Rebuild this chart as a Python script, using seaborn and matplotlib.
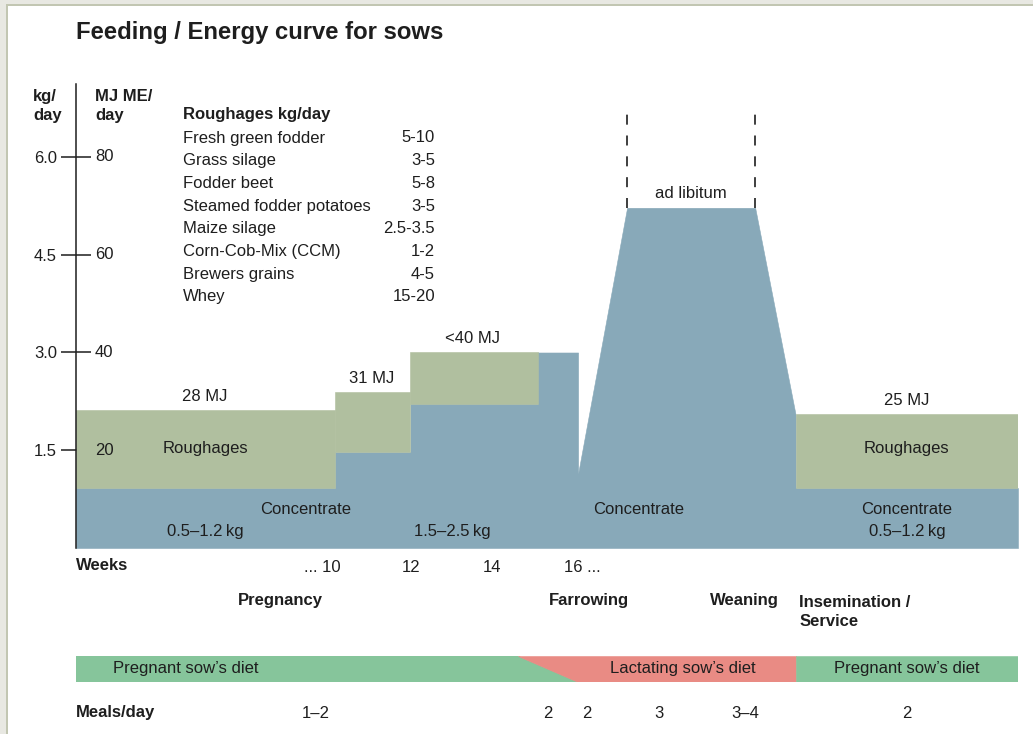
import matplotlib
matplotlib.use("Agg")
import matplotlib.pyplot as plt
import seaborn as sns
from matplotlib.patches import Rectangle

# --- data -------------------------------------------------------------
# timeline runs 0..100 across the chart (not linear in weeks)
conc_x = [0, 27.5, 27.5, 35.5, 35.5, 49.0, 49.0, 53.3, 53.3, 58.5, 72.1, 76.4, 76.4, 100]
conc_y = [0.92, 0.92, 1.47, 1.47, 2.21, 2.21, 3.0, 3.0, 1.14, 5.22, 5.22, 2.04, 0.92, 0.92]

rough_start = [0, 27.5, 35.5, 76.4]
rough_end = [27.5, 35.5, 49.0, 100]
rough_base = [0.92, 1.47, 2.21, 0.92]
rough_top = [2.12, 2.40, 3.01, 2.06]
energy_labels = ["28 MJ", "31 MJ", "<40 MJ", "25 MJ"]
energy_label_x = [13.7, 31.4, 42.1, 88.2]

kg_ticks = [1.5, 3.0, 4.5, 6.0]
mj_ticks = [20, 40, 60, 80]

week_pos = [26.1, 35.6, 44.2, 53.8]
week_labels = ["... 10", "12", "14", "16 ..."]

adlib_x = [58.5, 72.1]
adlib_level = 5.22

roughage_feeds = ["Fresh green fodder", "Grass silage", "Fodder beet",
                  "Steamed fodder potatoes", "Maize silage", "Corn-Cob-Mix (CCM)",
                  "Brewers grains", "Whey"]
roughage_amounts = ["5-10", "3-5", "5-8", "3-5", "2.5-3.5", "1-2", "4-5", "15-20"]

diet_names = ["Pregnant sow\u2019s diet", "Lactating sow\u2019s diet", "Pregnant sow\u2019s diet"]
diet_split_top = [46.9, 76.4]
diet_split_bottom = [53.3, 76.4]
diet_label_x = [11.6, 64.4, 88.2]

meal_pos = [25.5, 50.1, 54.2, 61.9, 71.0, 88.2]
meal_labels = ["1\u20132", "2", "2", "3", "3\u20134", "2"]

stage_names = ["Pregnancy", "Farrowing", "Weaning"]
stage_x = [21.7, 54.5, 71.0]

# --- style --------------------------------------------------------------
sns.set_theme(style="white")
plt.rcParams["font.family"] = ["Liberation Sans", "DejaVu Sans"]
TXT = "#1e1e1e"
BLUE = "#88a9b9"
GREEN = "#b0bf9f"
DIET_GREEN = "#86c59b"
DIET_RED = "#e98b84"
FS = 12

W, H = 1033, 734
fig = plt.figure(figsize=(W / 100, H / 100), dpi=100)
fig.patch.set_facecolor("white")


def px(x, y):
    return x / W, 1 - y / H


# frame strips (left / top)
fig.patches.append(Rectangle((0, 0), 6 / W, 1, transform=fig.transFigure,
                             facecolor="#e8e8e2", edgecolor="none"))
fig.patches.append(Rectangle((6 / W, 0), 1.5 / W, 1, transform=fig.transFigure,
                             facecolor="#c2c6b2", edgecolor="none"))
fig.patches.append(Rectangle((0, 1 - 4 / H), 1, 4 / H, transform=fig.transFigure,
                             facecolor="#e8e8e2", edgecolor="none"))
fig.patches.append(Rectangle((6 / W, 1 - 5.5 / H), 1, 1.5 / H, transform=fig.transFigure,
                             facecolor="#c2c6b2", edgecolor="none"))

# --- main chart ---------------------------------------------------------
ax = fig.add_axes([76 / W, 1 - 548 / H, 942 / W, 464 / H])
ax.set_xlim(0, 100)
ax.set_ylim(0, 7.12)
ax.fill_between(conc_x, 0, conc_y, facecolor=BLUE, edgecolor=BLUE, linewidth=0.4)
ax.bar(rough_start, [t - b for t, b in zip(rough_top, rough_base)],
       width=[e - s for s, e in zip(rough_start, rough_end)], bottom=rough_base,
       align="edge", facecolor=GREEN, edgecolor=GREEN, linewidth=0.4)

for xv, t, lab in zip(energy_label_x, rough_top, energy_labels):
    ax.annotate(lab, (xv, t), xytext=(0, 6), textcoords="offset pixels",
                ha="center", va="bottom", fontsize=FS, color=TXT)

for xv in adlib_x:
    ax.plot([xv, xv], [adlib_level, 6.67], color=TXT, lw=1.2,
            dashes=(6, 6.5), solid_capstyle="butt")
ax.text(sum(adlib_x) / 2, 5.44, "ad libitum", ha="center", va="center", fontsize=FS, color=TXT)

ax.text(13.7, 1.52, "Roughages", ha="center", va="center", fontsize=FS, color=TXT)
ax.text(88.2, 1.52, "Roughages", ha="center", va="center", fontsize=FS, color=TXT)
ax.text(24.4, 0.59, "Concentrate", ha="center", va="center", fontsize=FS, color=TXT)
ax.text(59.7, 0.59, "Concentrate", ha="center", va="center", fontsize=FS, color=TXT)
ax.text(88.2, 0.59, "Concentrate", ha="center", va="center", fontsize=FS, color=TXT)
ax.text(13.7, 0.25, "0.5\u20131.2\u2009kg", ha="center", va="center", fontsize=FS, color=TXT)
ax.text(39.9, 0.25, "1.5\u20132.5\u2009kg", ha="center", va="center", fontsize=FS, color=TXT)
ax.text(88.2, 0.25, "0.5\u20131.2\u2009kg", ha="center", va="center", fontsize=FS, color=TXT)

# axes, ticks
for side in ["top", "right", "bottom"]:
    ax.spines[side].set_visible(False)
ax.spines["left"].set_color(TXT)
ax.spines["left"].set_linewidth(1.1)
ax.set_yticks(kg_ticks)
ax.set_yticklabels([f"{v:.1f}" for v in kg_ticks], fontsize=FS, color=TXT)
ax.tick_params(axis="y", direction="inout", length=21.6, width=1.1, color=TXT, pad=3, left=True)
for v, m in zip(kg_ticks, mj_ticks):
    ax.annotate(str(m), (0, v), xycoords=("axes fraction", "data"), xytext=(19, 0),
                textcoords="offset pixels", ha="left", va="center", fontsize=FS, color=TXT)
ax.set_xticks(week_pos)
ax.set_xticklabels(week_labels, fontsize=FS, color=TXT)
ax.tick_params(axis="x", length=0, pad=9)
ax.grid(False)

# --- diet band ----------------------------------------------------------
band = fig.add_axes([76 / W, 1 - 682 / H, 942 / W, 26 / H])
band.set_xlim(0, 100)
band.set_ylim(0, 1)
band.fill([0, diet_split_top[0], diet_split_bottom[0], 0], [1, 1, 0, 0],
          facecolor=DIET_GREEN, edgecolor=DIET_GREEN, lw=0.4)
band.fill([diet_split_top[0], diet_split_top[1], diet_split_bottom[1], diet_split_bottom[0]],
          [1, 1, 0, 0], facecolor=DIET_RED, edgecolor=DIET_RED, lw=0.4)
band.fill([diet_split_top[1], 100, 100, diet_split_bottom[1]], [1, 1, 0, 0],
          facecolor=DIET_GREEN, edgecolor=DIET_GREEN, lw=0.4)
for xv, name in zip(diet_label_x, diet_names):
    band.text(xv, 0.5, name, ha="center", va="center", fontsize=FS, color=TXT)
for side in band.spines:
    band.spines[side].set_visible(False)
band.set_yticks([])
band.set_xticks(meal_pos)
band.set_xticklabels(meal_labels, fontsize=FS, color=TXT)
band.tick_params(axis="x", length=0, pad=17, labelbottom=True)
band.grid(False)

# --- free text ------------------------------------------------------------
fig.text(*px(76, 32), "Feeding / Energy curve for sows", fontsize=17.2, fontweight="bold",
         color=TXT, va="center", ha="left")
fig.text(*px(33, 106), "kg/\nday", fontsize=FS, fontweight="bold", color=TXT,
         va="center", ha="left", linespacing=1.3)
fig.text(*px(95, 106), "MJ ME/\nday", fontsize=FS, fontweight="bold", color=TXT,
         va="center", ha="left", linespacing=1.3)
fig.text(*px(183, 115), "Roughages kg/day", fontsize=FS, fontweight="bold", color=TXT,
         va="center", ha="left")
for i, (feed, amt) in enumerate(zip(roughage_feeds, roughage_amounts)):
    y = 138 + 22.7 * i
    fig.text(*px(183, y), feed, fontsize=FS, color=TXT, va="center", ha="left")
    fig.text(*px(435, y), amt, fontsize=FS, color=TXT, va="center", ha="right")

fig.text(*px(76, 566), "Weeks", fontsize=FS, fontweight="bold", color=TXT, va="center", ha="left")
fig.text(*px(76, 712), "Meals/day", fontsize=FS, fontweight="bold", color=TXT, va="center", ha="left")
for xv, name in zip(stage_x, stage_names):
    ax.annotate(name, (xv, 0), xytext=(0, -53), textcoords="offset pixels",
                ha="center", va="center", fontsize=FS, fontweight="bold", color=TXT,
                annotation_clip=False)
ax.annotate("Insemination /\nService", (76.8, 0), xytext=(0, -64), textcoords="offset pixels",
            ha="left", va="center", fontsize=FS, fontweight="bold", color=TXT,
            linespacing=1.3, annotation_clip=False)

fig.savefig("out.png", dpi=100)
